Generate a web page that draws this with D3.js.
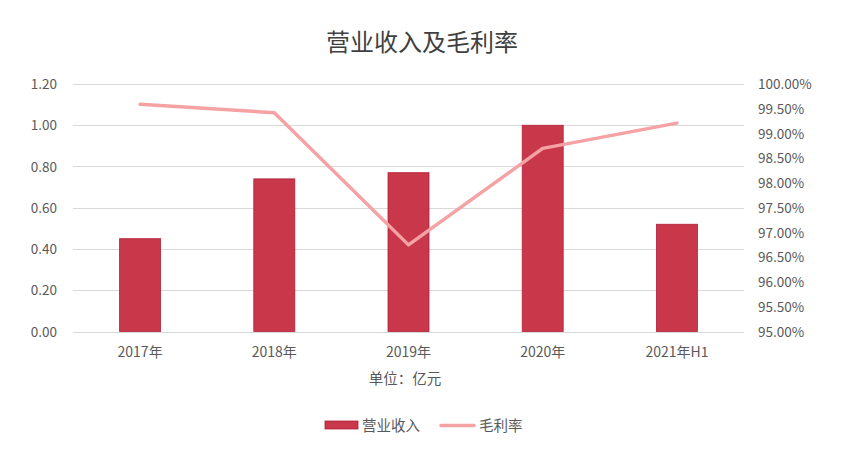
<!DOCTYPE html>
<html><head><meta charset="utf-8">
<script src="https://cdn.jsdelivr.net/npm/d3@7"></script>
<style>body{margin:0;background:#fff}svg{display:block}text{font-family:"Noto Sans CJK SC","Noto Sans",sans-serif;fill:#595959}</style>
</head><body><svg id="c" width="862" height="463"></svg>
<script>
const categories = ["2017年","2018年","2019年","2020年","2021年H1"];
const revenue = [0.45, 0.74, 0.77, 1.00, 0.52];
const margin = [0.9959, 0.9942, 0.9675, 0.9870, 0.9921];
const leftTicks = [0,0.2,0.4,0.6,0.8,1.0,1.2];
const rightTicks = [0.95,0.955,0.96,0.965,0.97,0.975,0.98,0.985,0.99,0.995,1.0];

const svg = d3.select("#c");
const L=73, R=744, T=84, B=331.5;
const xc = d3.scaleBand().domain(categories).range([L,R]);
const yL = d3.scaleLinear().domain([0,1.2]).range([B,T]);
const yR = d3.scaleLinear().domain([0.95,1.0]).range([B,T]);

svg.append("text").attr("x",422).attr("y",51).attr("text-anchor","middle").style("font-size","24px").style("fill","#404040").text("营业收入及毛利率");

svg.append("g").selectAll("line").data(leftTicks).join("line")
 .attr("x1",L).attr("x2",R).attr("y1",d=>Math.round(yL(d))+0.5).attr("y2",d=>Math.round(yL(d))+0.5)
 .attr("stroke","#d9d9d9").attr("stroke-width",1);

svg.append("g").selectAll("text").data(leftTicks).join("text")
 .attr("x",57).attr("y",d=>yL(d)+5).attr("text-anchor","end").style("font-size","13.5px").text(d=>d.toFixed(2));
svg.append("g").selectAll("text").data(rightTicks).join("text")
 .attr("x",758).attr("y",d=>yR(d)+5).attr("text-anchor","start").style("font-size","13.5px").text(d=>(d*100).toFixed(2)+"%");

svg.append("g").selectAll("rect").data(revenue).join("rect")
 .attr("x",(d,i)=>xc(categories[i])+xc.bandwidth()/2-20.5).attr("width",41)
 .attr("y",d=>yL(d)).attr("height",d=>B-yL(d))
 .attr("fill","#C8374A").attr("stroke","#B3203A").attr("stroke-width",0.8);

const line = d3.line().x((d,i)=>xc(categories[i])+xc.bandwidth()/2).y(d=>yR(d));
svg.append("path").datum(margin).attr("d",line).attr("fill","none")
 .attr("stroke","#F4A2A4").attr("stroke-width",3.5).attr("stroke-linejoin","round").attr("stroke-linecap","round");

svg.append("g").selectAll("text").data(categories).join("text")
 .attr("x",d=>xc(d)+xc.bandwidth()/2).attr("y",357).attr("text-anchor","middle").style("font-size","14px").text(d=>d);

svg.append("text").attr("x",405).attr("y",384).attr("text-anchor","middle").style("font-size","14.5px").text("单位：亿元");

svg.append("rect").attr("x",325).attr("y",421).attr("width",33).attr("height",8).attr("fill","#C8374A").attr("stroke","#B3203A").attr("stroke-width",0.8);
svg.append("text").attr("x",362).attr("y",431).style("font-size","14.5px").text("营业收入");
svg.append("line").attr("x1",441).attr("x2",474).attr("y1",425.5).attr("y2",425.5).attr("stroke","#F4A2A4").attr("stroke-width",3.5).attr("stroke-linecap","round");
svg.append("text").attr("x",479).attr("y",431).style("font-size","14.5px").text("毛利率");
</script></body></html>
